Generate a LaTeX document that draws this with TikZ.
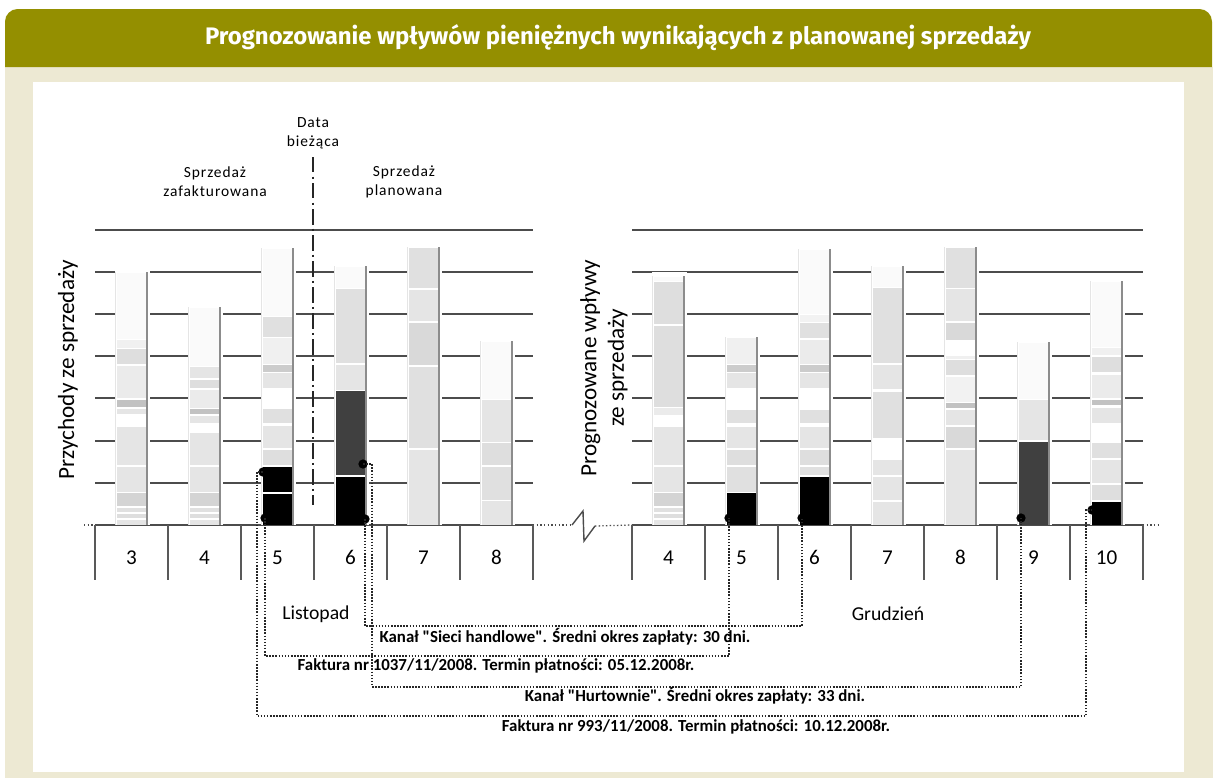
\documentclass[tikz,border=0pt]{standalone}
\usepackage{fontspec}
\setmainfont{Carlito}
\newfontfamily\tytulfont{Fira Sans}
\newfontfamily\rzadkifont[LetterSpace=6]{Carlito}
\usetikzlibrary{positioning,calc}
\definecolor{oliwka}{RGB}{148,143,0}
\definecolor{bez}{RGB}{237,233,211}
\tikzset{
	siatka/.style={black!70,line width=1pt},
	podzialka/.style={black!65,line width=1pt},
	kropki/.style={black!85,line width=1.3pt,dash pattern=on 1.1pt off 1.1pt},
	kropkiosi/.style={black!70,line width=0.9pt,dash pattern=on 1pt off 1.6pt},
	kropka/.style={circle,fill=black,inner sep=0pt,minimum size=6.6pt},
	krawedz/.style={black!45,line width=1.1pt},
	liczba/.style={anchor=base,font=\fontsize{15}{18}\selectfont},
	opis/.style={font=\bfseries\fontsize{12}{14}\selectfont},
}
\begin{document}
\begin{tikzpicture}[x=0.025cm,y=-0.025cm]
	\useasboundingbox (0,0) rectangle (1217,778);
	\fill[bez] (5,67) rectangle (1213,778);
	\fill[oliwka] (5,67) [rounded corners=9pt] -- (5,9) -- (1212,9) [sharp corners] -- (1212,67) -- cycle;
	\fill[white] (33,82) rectangle (1184,772);
	\node[text=white,font=\tytulfont\bfseries\fontsize{17}{20}\selectfont] (tytul) at (618,38) {Prognozowanie wpływów pieniężnych wynikających z planowanej sprzedaży};

	\foreach \y in {230,272,314,356,398,441,483} {
		\draw[siatka] (95,\y) -- (533,\y);
		\draw[siatka] (632,\y) -- (1143,\y);
	}
	\draw[siatka] (95,525) -- (533,525);
	\draw[siatka] (632,525) -- (1143,525);
	\draw[kropkiosi] (84,525) -- (95,525);
	\draw[kropkiosi] (533,525) -- (572,525);
	\draw[kropkiosi] (595,526) -- (632,525);
	\draw[kropkiosi] (1143,525) -- (1158,525);
	\draw[siatka] (572,525) -- (583,511) -- (584,541) -- (595,526);
	\foreach \i in {0,...,6}
		\draw[podzialka] (95+73*\i,525) -- (95+73*\i,580);
	\foreach \i in {0,...,7}
		\draw[podzialka] (632+73*\i,525) -- (632+73*\i,580);

	\foreach \cx/\top/\segs in {
		131.5/273/{273/339/4,340/348/10,349/364/20,366/398/12,400/407/35,409/414/15,427/465/15,467/492/15,493/506/25,508/512/18,514/518/20,520/525/15},
		204.5/308/{308/366/4,367/378/15,380/388/20,390/408/12,409/414/35,416/423/15,433/465/15,467/492/15,493/506/25,508/512/18,514/518/20,520/525/15},
		277.5/249/{249/316/4,317/337/18,338/364/10,365/372/30,373/388/15,409/423/18,426/448/15,450/465/20,467/492/100,494/525/100},
		350.5/267/{267/288/3,289/363/18,365/390/15,391/475/75,477/525/100},
		423.5/248/{248/288/18,290/321/15,323/365/22,367/448/18,450/525/15},
		496.5/342/{342/399/4,400/442/15,443/465/20,467/500/18,501/525/15},
		668.5/277/{277/281/4,282/324/20,326/407/20,408/415/12,427/465/15,467/492/15,493/506/25,508/512/18,514/518/20,520/525/15},
		741.5/338/{338/364/10,365/372/30,373/388/15,410/423/18,427/448/15,450/465/20,467/492/18,493/525/100},
		814.5/250/{250/314/4,315/322/8,323/338/18,340/364/12,365/372/30,373/388/15,410/423/18,427/448/15,450/465/20,467/475/18,477/525/100},
		887.5/267/{267/287/3,288/363/18,365/389/15,392/438/18,460/475/15,477/500/15,502/525/15},
		960.5/248/{248/288/18,289/321/15,323/340/22,356/359/10,360/375/20,377/402/8,403/408/35,410/425/15,427/448/22,450/525/15},
		1033.5/343/{343/399/4,400/440/15,442/525/75},
		1106.5/282/{282/347/4,348/355/10,357/372/20,375/398/12,400/405/35,408/423/15,443/458/18,460/483/15,485/500/20,502/525/100}} {
		\fill[white] (\cx-17,\top-5) rectangle (\cx+18,524.5);
		\foreach \a/\b/\c in \segs {
			\pgfmathtruncatemacro\odcien{\c<50 ? 0.7*\c : \c}
			\fill[black!\odcien] (\cx-15,\a) rectangle (\cx+14,\b);
		}
		\draw[krawedz] (\cx+15.5,\top-1) -- (\cx+15.5,525);
		\draw[black!10,line width=0.6pt] (\cx-16,\top-1) -- (\cx-16,525);
	}

	\draw[black!85,line width=1.1pt,dash pattern=on 11pt off 3pt on 1.5pt off 3pt] (313,157) -- (313,505);

	\begin{scope}[every node/.style={liczba}]
		\foreach \n [count=\i from 0] in {3,...,8}
			\node (lis\n) at (131.5+73*\i,564) {\n};
		\foreach \n [count=\i from 0] in {4,...,10}
			\node (gru\n) at (668.5+73*\i,564) {\n};
	\end{scope}

	\node[font=\fontsize{14}{17}\selectfont] (listopad) at (316,614) {Listopad};
	\node[font=\fontsize{14}{17}\selectfont] (grudzien) at (888,614) {Grudzień};

	\node[rotate=90,font=\fontsize{16.5}{19}\selectfont] (przychody) at (68,370) {Przychody ze sprzedaży};
	\node[rotate=90,align=center,font=\fontsize{16.5}{19.5}\selectfont] (wplywy) at (604,368) {Prognozowane wpływy\\ze sprzedaży};

	\begin{scope}[every node/.style={align=center,font=\rzadkifont\fontsize{11}{13.5}\selectfont}]
		\node (data) at (313,133) {Data\\bieżąca};
		\node (zafakt) at (215,182) {Sprzedaż\\zafakturowana};
		\node (plan) at (404,182) {Sprzedaż\\planowana};
	\end{scope}

	\coordinate (sieci) at (0,626);
	\coordinate (fak1037) at (0,656);
	\coordinate (hurt) at (0,687);
	\coordinate (fak993) at (0,716);
	\coordinate (hak10) at (1086,510);

	\begin{scope}[every node/.style={kropka}]
		\node (k5dol) at (265,518) {};
		\node (k5gora) at (263,472) {};
		\node (k6dol) at (365,519) {};
		\node (k6gora) at (363,464) {};
		\node (k5R) at (729,518) {};
		\node (k6R) at (802,518) {};
		\node (k9R) at (1021,518) {};
		\node (k10R) at (1092,510) {};
	\end{scope}

	\begin{scope}[kropki]
		\draw (k6dol.center) -- (k6dol |- sieci) -- (k6R |- sieci) -- (k6R.center);
		\draw (k5dol.center) -- (k5dol |- fak1037) -- (k5R |- fak1037) -- (k5R.center);
		\draw (k6gora.center) -- ++(9,0) |- (k9R |- hurt) -- (k9R.center);
		\draw (k5gora.center) -- ++(-6,0) |- (hak10 |- fak993) -- (hak10) -- (k10R.center);
	\end{scope}

	\begin{scope}[every node/.style={opis}]
		\node (opisSieci) at (565,637) {Kanał \textquotedbl Sieci handlowe\textquotedbl. Średni okres zapłaty: 30 dni.};
		\node (opisF1037) at (496,666) {Faktura nr 1037/11/2008. Termin płatności: 05.12.2008r.};
		\node (opisHurt) at (695,696) {Kanał \textquotedbl Hurtownie\textquotedbl. Średni okres zapłaty: 33 dni.};
		\node (opisF993) at (696,727) {Faktura nr 993/11/2008. Termin płatności: 10.12.2008r.};
	\end{scope}
\end{tikzpicture}
\end{document}
